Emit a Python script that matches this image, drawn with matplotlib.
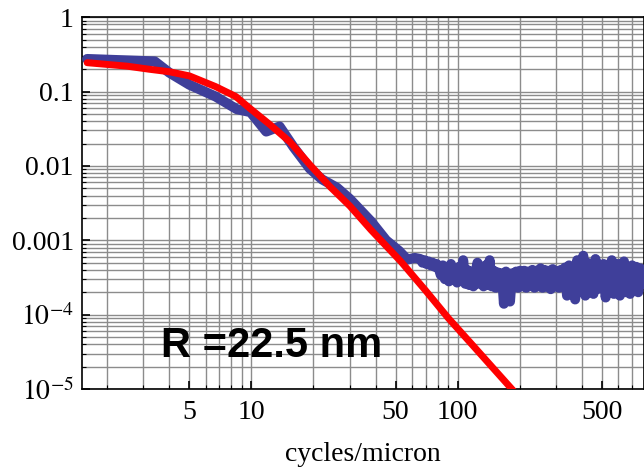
import matplotlib
matplotlib.use('Agg')
import matplotlib.pyplot as plt
from matplotlib.ticker import FixedLocator, LogLocator, NullFormatter
import numpy as np

# measured spectrum (blue) - smooth part
blue_f = [1.6, 3.4, 4.0, 5.0, 6.7, 8.5, 9.9, 11.8, 13.7, 16, 19.2, 22, 26, 30,
          38, 45, 52, 57, 62]
blue_p = [0.275, 0.255, 0.18, 0.124, 0.086, 0.058, 0.053, 0.029, 0.034, 0.018,
          0.0092, 0.0066, 0.0051, 0.0036, 0.0018, 0.001, 0.00072, 0.00055,
          0.00058]
# noisy floor, in units of 1e-4
tail_p = [5.6, 5.0, 5.4, 4.8, 5.2, 4.6, 5.0, 4.4, 4.8, 4.2,
          3.4, 4.6, 3.0, 4.2, 2.8, 4.8, 3.2, 4.0, 2.7, 4.4,
          3.0, 5.4, 2.6, 4.0, 2.5, 3.8, 2.4, 3.6, 5.0, 2.6,
          3.8, 2.4, 4.6, 2.5, 5.4, 2.4, 3.9, 2.3, 3.7, 2.5,
          3.6, 1.4, 3.8, 2.4, 1.5, 3.6, 2.4, 3.8, 2.3, 3.9,
          2.4, 3.9, 2.3, 3.8, 2.5, 4.0, 2.3, 3.9, 2.4, 4.2,
          2.3, 4.0, 2.4, 3.9, 2.2, 4.1, 2.4, 3.8, 2.3, 4.0,
          2.4, 4.3, 1.8, 4.6, 2.2, 4.0, 1.6, 5.4, 2.0, 4.2,
          6.2, 1.8, 5.0, 2.0, 4.4, 1.9, 5.6, 2.2, 4.0, 2.3,
          4.8, 1.7, 4.2, 2.2, 5.4, 1.9, 4.0, 4.8, 1.8, 4.0,
          5.2, 2.0, 4.0, 1.9, 4.6, 2.1, 4.4, 2.0, 4.2, 2.6]
tail_f = np.geomspace(66, 785, len(tail_p))

# model fit (red)
fit_f = [1.6, 2.5, 3.2, 4, 5, 6.7, 8.4, 9.8, 12.3, 15.4, 19.2, 24, 30, 38, 53,
         70, 90, 120, 150, 195]
fit_p = [0.245, 0.22, 0.2, 0.185, 0.163, 0.117, 0.086, 0.06, 0.036, 0.021,
         0.0104, 0.0053, 0.0029, 0.00138, 5.2e-4, 2.1e-4, 9e-5, 3.7e-5,
         1.85e-5, 8.2e-6]

xticks = [5, 10, 50, 100, 500]
yticks = [1e-5, 1e-4, 1e-3, 1e-2, 1e-1, 1]
ylabels = [r'$10^{-5}$', r'$10^{-4}$', '0.001', '0.01', '0.1', '1']

plt.rcParams['font.family'] = ['Liberation Serif', 'DejaVu Serif']
plt.rcParams['mathtext.fontset'] = 'stix'

fig = plt.figure(figsize=(6.44, 4.76), dpi=100)
ax = fig.add_axes([0.1273, 0.1828, 0.8727, 0.7809])

f_all = np.concatenate([blue_f, tail_f])
p_all = np.concatenate([blue_p, np.array(tail_p) * 1e-4])
ax.plot(f_all, p_all, color='#3f3f9a', lw=7.2, solid_capstyle='round',
        solid_joinstyle='round', zorder=3)
ax.plot(fit_f, fit_p, color='#ff0000', lw=5, solid_capstyle='round', zorder=4)

ax.set_xscale('log')
ax.set_yscale('log')
ax.set_xlim(1.51, 800)
ax.set_ylim(1e-5, 1)

ax.xaxis.set_major_locator(FixedLocator(xticks))
ax.set_xticklabels([str(t) for t in xticks])
ax.xaxis.set_minor_locator(LogLocator(base=10, subs=np.arange(1, 10), numticks=20))
ax.xaxis.set_minor_formatter(NullFormatter())
ax.yaxis.set_major_locator(FixedLocator(yticks))
ax.set_yticklabels(ylabels)
ax.yaxis.set_minor_locator(LogLocator(base=10, subs=np.arange(2, 10), numticks=20))
ax.yaxis.set_minor_formatter(NullFormatter())

ax.grid(True, which='both', color='#8c8c8c', lw=1.0)
ax.set_axisbelow(True)
ax.tick_params(which='both', direction='in', labelsize=20, color='black')
ax.tick_params(which='major', length=6, width=1.2)
ax.tick_params(which='minor', length=3, width=0.8)
ax.tick_params(axis='x', pad=8)
ax.tick_params(axis='y', pad=6)
for s in ax.spines.values():
    s.set_linewidth(1.2)

ax.set_xlabel('cycles/micron', fontsize=20, labelpad=12)

ax.text(0.14, 0.085, 'R =22.5 nm', transform=ax.transAxes,
        family='Liberation Sans', weight='bold', fontsize=30,
        color='black', zorder=5)

fig.savefig('out.png', dpi=100)
